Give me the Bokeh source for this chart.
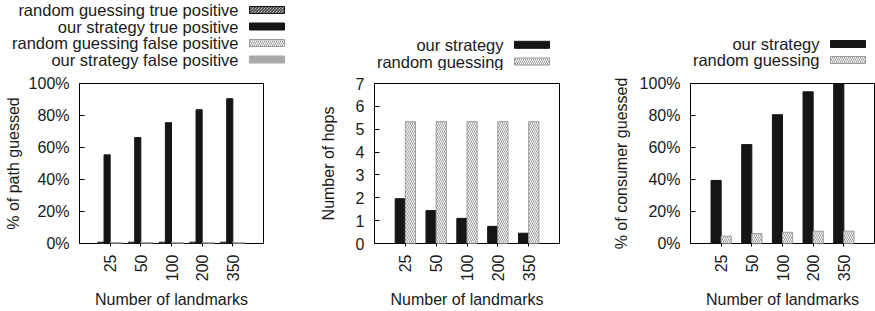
import math
from bokeh.plotting import figure
from bokeh.models import Range1d, FixedTicker, PrintfTickFormatter
from bokeh.layouts import row, column
from bokeh.core.properties import value
from bokeh.embed import file_html
from bokeh.resources import INLINE

# ---------------- data ----------------
landmarks = ["25", "50", "100", "200", "350"]

# panel 1: % of path guessed
p1_random_tp = [0.8, 0.8, 0.8, 0.8, 0.8]
p1_ours_tp = [55.4, 66.2, 75.5, 83.6, 90.5]
p1_random_fp = [0.6, 0.6, 0.6, 0.6, 0.6]
p1_ours_fp = [0.6, 0.6, 0.6, 0.6, 0.6]

# panel 2: number of hops
p2_ours = [1.96, 1.44, 1.10, 0.75, 0.45]
p2_random = [5.33, 5.33, 5.33, 5.33, 5.33]

# panel 3: % of consumer guessed
p3_ours = [39.4, 61.8, 80.5, 94.8, 100.0]
p3_random = [4.6, 6.2, 7.0, 7.7, 7.7]

pct_ticks = [0, 20, 40, 60, 80, 100]
hop_ticks = [0, 1, 2, 3, 4, 5, 6, 7]

legend1 = ["random guessing true positive", "our strategy true positive",
           "random guessing false positive", "our strategy false positive"]
legend23 = ["our strategy", "random guessing"]

# ---------------- styles ----------------
FONT = "Liberation Sans"
TXT = "#1a1a1a"
BLACK = "#151515"
GRAY = "#aaaaaa"
HATCH_GRAY = "#9a9a9a"

xpos = list(range(1, len(landmarks) + 1))
LEG_H = 70
MAIN_H = 241

solid_black = dict(fill_color=BLACK, fill_alpha=1, line_color=BLACK, line_width=1, line_alpha=1)
solid_gray = dict(fill_color=GRAY, fill_alpha=1, line_color=GRAY, line_width=1, line_alpha=1)
hatch_light = dict(fill_color="white", fill_alpha=1, line_color=HATCH_GRAY, line_width=1,
                   line_alpha=1, hatch_pattern="\\", hatch_color=HATCH_GRAY,
                   hatch_scale=4, hatch_weight=1, hatch_alpha=1)
hatch_dark = dict(fill_color="white", fill_alpha=1, line_color=BLACK, line_width=1,
                  line_alpha=1, hatch_pattern="\\", hatch_color=BLACK,
                  hatch_scale=3, hatch_weight=1, hatch_alpha=1)


def make_fig(width, bl, br, ymax, yticks, ylabel, yfmt, ystand):
    p = figure(width=width, height=MAIN_H, x_range=Range1d(0, len(landmarks) + 1),
               y_range=Range1d(0, ymax), output_backend="svg", toolbar_location=None,
               min_border_left=bl, min_border_right=br, min_border_top=13,
               min_border_bottom=68, frame_align=False)
    p.xgrid.visible = False
    p.ygrid.visible = False
    p.outline_line_color = "black"
    p.outline_line_width = 1
    p.outline_line_alpha = 1
    p.background_fill_color = "white"
    p.border_fill_color = "white"
    # x axis
    xa = p.xaxis[0]
    xa.ticker = FixedTicker(ticks=xpos)
    xa.major_label_overrides = {x: lab for x, lab in zip(xpos, landmarks)}
    xa.major_label_orientation = math.pi / 2
    xa.axis_line_color = None
    xa.major_tick_in = 0
    xa.major_tick_out = 3
    xa.major_tick_line_color = "black"
    xa.minor_tick_line_color = None
    xa.major_label_standoff = 8
    xa.major_label_text_font = FONT
    xa.major_label_text_font_size = "16px"
    xa.major_label_text_color = TXT
    xa.axis_label = "Number of landmarks"
    xa.axis_label_text_font = FONT
    xa.axis_label_text_font_size = "16px"
    xa.axis_label_text_font_style = "normal"
    xa.axis_label_text_color = TXT
    xa.axis_label_standoff = 7
    # y axis
    ya = p.yaxis[0]
    ya.ticker = FixedTicker(ticks=yticks)
    if yfmt:
        ya.formatter = PrintfTickFormatter(format=yfmt)
    ya.axis_line_color = None
    ya.major_tick_in = 5
    ya.major_tick_out = 0
    ya.major_tick_line_color = "black"
    ya.minor_tick_line_color = None
    ya.major_label_standoff = 10
    ya.major_label_text_font = FONT
    ya.major_label_text_font_size = "16px"
    ya.major_label_text_color = TXT
    ya.axis_label = ylabel
    ya.axis_label_text_font = FONT
    ya.axis_label_text_font_size = "16px"
    ya.axis_label_text_font_style = "normal"
    ya.axis_label_text_color = TXT
    ya.axis_label_standoff = ystand
    return p


def make_legend(width, labels, styles, text_right, sw_left, sw_right, ys):
    lg = figure(width=width, height=LEG_H, x_range=Range1d(0, width),
                y_range=Range1d(LEG_H, 0), x_axis_type=None, y_axis_type=None,
                output_backend="svg", toolbar_location=None, min_border=0,
                frame_align=False)
    lg.outline_line_color = None
    lg.background_fill_color = "white"
    lg.border_fill_color = "white"
    lg.xgrid.visible = False
    lg.ygrid.visible = False
    lg.text(x=[text_right] * len(labels), y=ys, text=labels, text_align="right",
            text_baseline="middle", text_font=value(FONT), text_font_size="16.5px",
            text_color=TXT)
    for y, st in zip(ys, styles):
        lg.quad(left=[sw_left], right=[sw_right], top=[y - 3.5], bottom=[y + 3.5], **st)
    return lg


# ---------------- panel 1 ----------------
p1 = make_fig(300, 79, 37, 100, pct_ticks, "% of path guessed", "%d%%", 4)
w4 = 0.2
for vals, off, st in [(p1_random_tp, -0.3, hatch_dark), (p1_ours_tp, -0.1, solid_black),
                      (p1_random_fp, 0.1, hatch_light), (p1_ours_fp, 0.3, solid_gray)]:
    p1.vbar(x=[x + off for x in xpos], top=vals, bottom=0, width=w4, **st)
l1 = make_legend(300, legend1, [hatch_dark, solid_black, hatch_light, solid_gray],
                 238, 249, 284, [9.5, 26.0, 42.5, 59.0])

# ---------------- panel 2 ----------------
p2 = make_fig(290, 74, 31, 7, hop_ticks, "Number of hops", None, 16)
w2 = 0.33
p2.vbar(x=[x - 0.165 for x in xpos], top=p2_ours, bottom=0, width=w2, **solid_black)
p2.vbar(x=[x + 0.165 for x in xpos], top=p2_random, bottom=0, width=w2, **hatch_light)
l2 = make_legend(290, legend23, [solid_black, hatch_light], 203, 214, 249, [44.3, 61.0])

# ---------------- panel 3 ----------------
p3 = make_fig(285, 100, 1, 100, pct_ticks, "% of consumer guessed", "%d%%", 7)
p3.vbar(x=[x - 0.165 for x in xpos], top=p3_ours, bottom=0, width=w2, **solid_black)
p3.vbar(x=[x + 0.165 for x in xpos], top=p3_random, bottom=0, width=w2, **hatch_light)
l3 = make_legend(285, legend23, [solid_black, hatch_light], 229, 240, 275, [43.5, 59.5])

layout = row(column(l1, p1), column(l2, p2), column(l3, p3))
open("out.html", "w").write(file_html(layout, INLINE))
